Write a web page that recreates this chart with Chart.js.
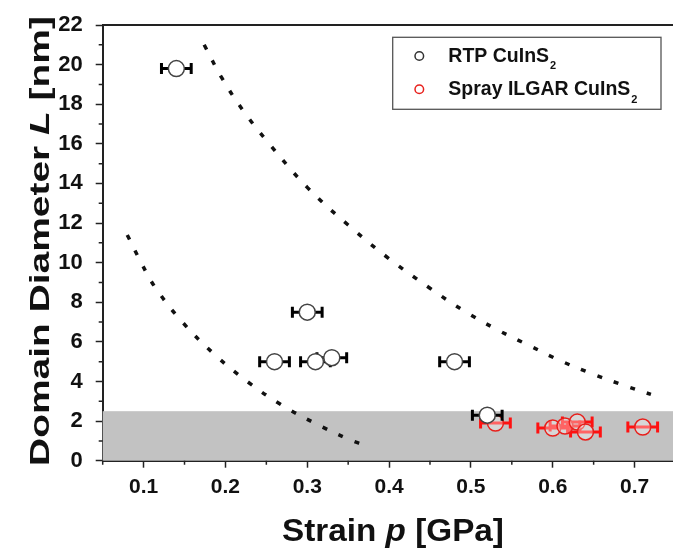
<!DOCTYPE html>
<html><head><meta charset="utf-8">
<script src="https://cdn.jsdelivr.net/npm/chart.js@4.4.1/dist/chart.umd.min.js"></script>
<style>html,body{margin:0;padding:0;background:#fff;overflow:hidden}#wrap{position:relative;width:673px;height:551px}</style>
</head><body><div id="wrap"><canvas id="c" width="673" height="551"></canvas></div>
<script>
// ---- data ----
const rtpX    = [0.14, 0.30, 0.26, 0.31, 0.33, 0.48, 0.52];
const rtpY    = [19.8, 7.5, 5.0, 5.0, 5.2, 5.0, 2.3];
const rtpXErr = [0.02, 0.02, 0.02, 0.02, 0.02, 0.02, 0.02];

const sprayX    = [0.53, 0.60, 0.615, 0.63, 0.64, 0.71];
const sprayY    = [1.9, 1.65, 1.75, 1.95, 1.45, 1.7];
const sprayXErr = [0.02, 0.02, 0.02, 0.02, 0.02, 0.02];

const upperCurveX = [0.174, 0.196, 0.222, 0.254, 0.30, 0.35, 0.40, 0.45, 0.491, 0.531, 0.572, 0.612, 0.652, 0.693, 0.72];
const upperCurveY = [21.0, 19.3, 17.66, 15.98, 13.8, 11.9, 10.2, 8.71, 7.58, 6.64, 5.8, 5.0, 4.33, 3.72, 3.35];
const lowerCurveX = [0.08, 0.097, 0.114, 0.147, 0.186, 0.227, 0.268, 0.308, 0.349, 0.37];
const lowerCurveY = [11.4, 10.0, 8.76, 7.02, 5.39, 3.99, 2.83, 1.92, 1.11, 0.78];

const bandRange = [0, 2.5];

const xTicks = [0.1, 0.2, 0.3, 0.4, 0.5, 0.6, 0.7];
const xMinorTicks = [0.05, 0.15, 0.25, 0.35, 0.45, 0.55, 0.65];
const yTicks = [0, 2, 4, 6, 8, 10, 12, 14, 16, 18, 20, 22];
const yMinorTicks = [1, 3, 5, 7, 9, 11, 13, 15, 17, 19, 21];

const legendMain = ['RTP CuInS', 'Spray ILGAR CuInS'];
const legendSub = ['2', '2'];
const xTitleParts = [['Strain ', false], ['p', true], [' [GPa]', false]];
const yTitleParts = [['Domain Diameter ', false], ['L', true], [' [nm]', false]];

const FONT = "'Liberation Sans', Arial, Helvetica, sans-serif";
const INK = '#111';
const RED = '#e8201c';

const pts = (xs, ys) => xs.map((x, i) => ({x, y: ys[i]}));

const bandPlugin = {
  id: 'band',
  beforeDatasetsDraw(chart) {
    const {ctx, chartArea: a, scales: {y}} = chart;
    const y0 = y.getPixelForValue(bandRange[0]);
    const y1 = y.getPixelForValue(bandRange[1]);
    ctx.save();
    ctx.fillStyle = '#c2c2c2';
    ctx.fillRect(a.left, y1, a.right - a.left, y0 - y1);
    ctx.restore();
  }
};

const errPlugin = {
  id: 'errbars',
  beforeDatasetDraw(chart, args) {
    const ds = chart.data.datasets[args.index];
    if (!ds.errX) return;
    const {ctx, scales: {x, y}} = chart;
    ctx.save();
    ctx.strokeStyle = ds.errColor;
    ctx.lineWidth = 3;
    ctx.lineCap = 'butt';
    ds.data.forEach((p, i) => {
      const e = ds.errX[i];
      const xl = x.getPixelForValue(p.x - e), xr = x.getPixelForValue(p.x + e);
      const py = y.getPixelForValue(p.y);
      ctx.beginPath();
      ctx.moveTo(xl, py); ctx.lineTo(xr, py);
      ctx.moveTo(xl + 1.5, py - 5.5); ctx.lineTo(xl + 1.5, py + 5.5);
      ctx.moveTo(xr - 1.5, py - 5.5); ctx.lineTo(xr - 1.5, py + 5.5);
      ctx.stroke();
    });
    ctx.restore();
  }
};

function drawParts(ctx, parts, size, sx) {
  const fonts = parts.map(p => (p[1] ? 'italic ' : '') + 'bold ' + size + 'px ' + FONT);
  let total = 0;
  const widths = parts.map((p, i) => { ctx.font = fonts[i]; const w = ctx.measureText(p[0]).width; total += w; return w; });
  ctx.scale(sx, 1);
  let cx = -total / 2;
  ctx.textAlign = 'left';
  ctx.textBaseline = 'alphabetic';
  parts.forEach((p, i) => { ctx.font = fonts[i]; ctx.fillText(p[0], cx, 0); cx += widths[i]; });
}

const decoPlugin = {
  id: 'deco',
  afterDraw(chart) {
    const {ctx, chartArea: a, scales: {x, y}} = chart;
    ctx.save();
    // top frame line
    ctx.strokeStyle = '#222'; ctx.lineWidth = 2;
    ctx.beginPath(); ctx.moveTo(a.left, a.top); ctx.lineTo(a.right, a.top); ctx.stroke();
    // minor ticks
    ctx.lineWidth = 1.5;
    ctx.beginPath();
    xMinorTicks.forEach(v => { const px = x.getPixelForValue(v); ctx.moveTo(px, a.bottom); ctx.lineTo(px, a.bottom + 4); });
    yMinorTicks.forEach(v => { const py = y.getPixelForValue(v); ctx.moveTo(a.left, py); ctx.lineTo(a.left - 4, py); });
    ctx.stroke();
    ctx.restore();

    // axis titles
    ctx.save();
    ctx.fillStyle = INK;
    ctx.translate(393, 541);
    drawParts(ctx, xTitleParts, 32, 1.04);
    ctx.restore();
    ctx.save();
    ctx.fillStyle = INK;
    ctx.translate(49, 241);
    ctx.rotate(-Math.PI / 2);
    drawParts(ctx, yTitleParts, 28, 1.39);
    ctx.restore();

    // legend
    ctx.save();
    ctx.strokeStyle = '#555'; ctx.lineWidth = 1.3;
    ctx.strokeRect(392.7, 37.3, 268.3, 72);
    const rows = [56, 89.3];
    const cols = ['#333', RED];
    rows.forEach((ry, i) => {
      ctx.beginPath(); ctx.arc(419.3, ry, 4.3, 0, Math.PI * 2);
      ctx.fillStyle = '#fff'; ctx.fill();
      ctx.strokeStyle = cols[i]; ctx.lineWidth = 1.5; ctx.stroke();
      ctx.fillStyle = INK; ctx.textAlign = 'left'; ctx.textBaseline = 'alphabetic';
      ctx.font = 'bold 19.5px ' + FONT;
      ctx.fillText(legendMain[i], 448.3, ry + 5.8);
      const w = ctx.measureText(legendMain[i]).width;
      ctx.font = 'bold 11px ' + FONT;
      ctx.fillText(legendSub[i], 448.3 + w + 1, ry + 13.3);
    });
    ctx.restore();
  }
};

new Chart(document.getElementById('c'), {
  type: 'scatter',
  data: {
    datasets: [
      { label: 'RTP CuInS₂', data: pts(rtpX, rtpY), errX: rtpXErr, errColor: '#000',
        pointRadius: 8, pointHoverRadius: 8, pointBackgroundColor: '#fff', pointBorderColor: '#444', pointBorderWidth: 1.5 },
      { label: 'Spray ILGAR CuInS₂', data: pts(sprayX, sprayY), errX: sprayXErr, errColor: '#ff1010',
        pointRadius: 8, pointHoverRadius: 8, pointBackgroundColor: 'rgba(255,255,255,0.35)', pointBorderColor: RED, pointBorderWidth: 1.5 },
      { type: 'line', label: 'upper guide', data: pts(upperCurveX, upperCurveY), borderColor: '#111', borderWidth: 3.5,
        borderDash: [5, 12.5], pointRadius: 0, tension: 0.4, fill: false },
      { type: 'line', label: 'lower guide', data: pts(lowerCurveX, lowerCurveY), borderColor: '#111', borderWidth: 3.5,
        borderDash: [5, 12.5], pointRadius: 0, tension: 0.4, fill: false }
    ]
  },
  options: {
    responsive: false,
    devicePixelRatio: 1,
    animation: false,
    layout: { autoPadding: false, padding: { top: 25, left: 0, right: 0, bottom: 0 } },
    plugins: { legend: { display: false }, tooltip: { enabled: false } },
    scales: {
      x: {
        type: 'linear', min: 0.05, max: 0.747,
        afterBuildTicks: s => { s.ticks = xTicks.map(v => ({value: v})); },
        afterFit: s => { s.height = 90.3; s.paddingLeft = 0; s.paddingRight = 0; },
        ticks: { font: {family: FONT, size: 21, weight: 'bold'}, color: INK, padding: 7, maxRotation: 0, autoSkip: false,
                 callback: v => Number(v).toFixed(1) },
        grid: { drawOnChartArea: false, drawTicks: true, tickLength: 7, color: '#222', tickColor: '#222', tickWidth: 1.5 },
        border: { display: true, color: '#222', width: 2 }
      },
      y: {
        type: 'linear', min: 0, max: 22,
        afterBuildTicks: s => { s.ticks = yTicks.map(v => ({value: v})); },
        afterFit: s => { s.width = 102.7; s.paddingTop = 0; s.paddingBottom = 0; },
        ticks: { font: {family: FONT, size: 22, weight: 'bold'}, color: INK, padding: 13, autoSkip: false,
                 callback: v => String(v) },
        grid: { drawOnChartArea: false, drawTicks: true, tickLength: 7, color: '#222', tickColor: '#222', tickWidth: 1.5 },
        border: { display: true, color: '#222', width: 2 }
      }
    }
  },
  plugins: [bandPlugin, errPlugin, decoPlugin]
});
</script>
</body></html>
